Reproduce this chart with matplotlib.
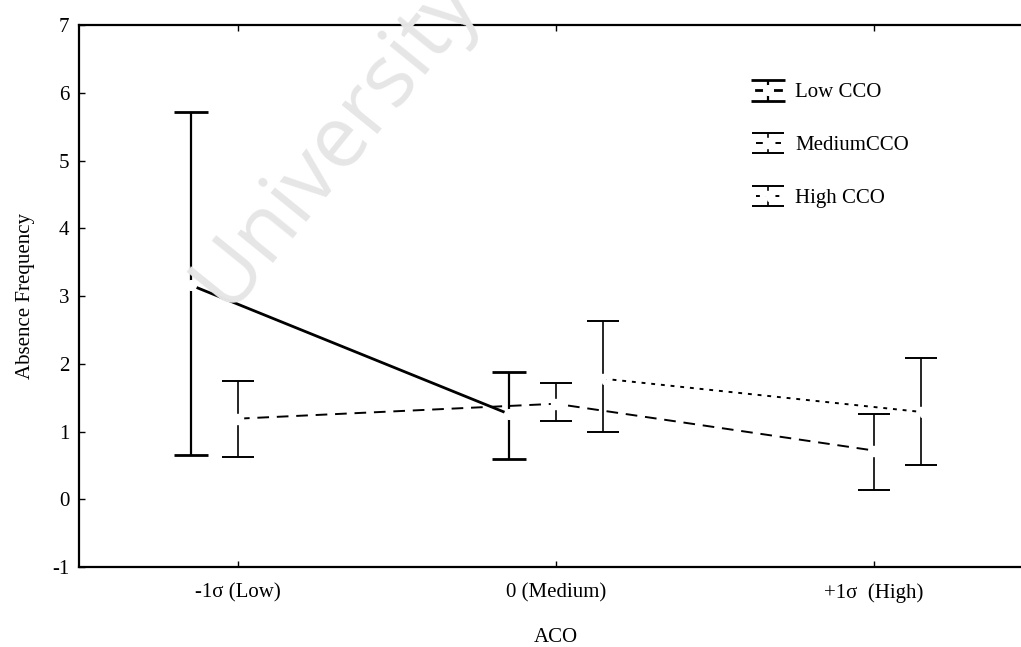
import numpy as np
import matplotlib.pyplot as plt

plt.rcParams['font.family'] = ['Liberation Serif', 'DejaVu Serif']
plt.rcParams['axes.unicode_minus'] = False

# ACO levels on the x axis
categories = ["-1\u03c3 (Low)", "0 (Medium)", "+1\u03c3  (High)"]
series_names = ["Low CCO", "MediumCCO", "High CCO"]

# means and interval bounds (nan = no point)
low_mean = [3.16, 1.26, np.nan]
low_upper = [5.72, 1.88, np.nan]
low_lower = [0.65, 0.59, np.nan]

med_mean = [1.19, 1.41, 0.72]
med_upper = [1.75, 1.71, 1.26]
med_lower = [0.63, 1.15, 0.13]

high_mean = [np.nan, 1.78, 1.29]
high_upper = [np.nan, 2.63, 2.09]
high_lower = [np.nan, 0.99, 0.50]

fig = plt.figure(figsize=(10.21, 6.47), dpi=100)
ax = fig.add_axes([0.0774, 0.1236, 0.934, 0.8377])

# faint watermark behind everything (cut by the top edge, as in the scan)
fig.text(0.222, 0.52, "University", rotation=51, rotation_mode='anchor',
         ha='left', va='baseline', fontsize=62, color='#e6e6e6',
         family=['Open Sans', 'DejaVu Sans'], zorder=0)
ax.patch.set_alpha(0)

x = np.arange(len(categories))
offset = 0.148
styles = [
    (low_mean, low_upper, low_lower, -offset, '-', 2.0, 1.6, 12.5, 'o'),
    (med_mean, med_upper, med_lower, 0.0, (0, (6, 4)), 1.4, 1.2, 11.5, 's'),
    (high_mean, high_upper, high_lower, offset, (0, (2, 3)), 1.4, 1.2, 11.5, 'v'),
]

handles = []
for (m, u, l, off, ls, lw, elw, cap, mk), name in zip(styles, series_names):
    m = np.array(m)
    yerr = [m - np.array(l), np.array(u) - m]
    h = ax.errorbar(x + off, m, yerr=yerr, color='black', linestyle=ls, linewidth=lw,
                    elinewidth=elw, capsize=cap, capthick=lw, marker=mk, markersize=7,
                    markerfacecolor='white', markeredgecolor='white', label=name, zorder=3)
    handles.append(h)

ax.set_xlim(-0.5, 2.5)
ax.set_ylim(-1, 7)
ax.set_xticks(x)
ax.set_xticklabels(categories)
ax.set_yticks(range(-1, 8))
ax.tick_params(axis='both', direction='in', length=4, width=1, labelsize=15, colors='black')
ax.tick_params(axis='x', top=True, pad=12)
ax.tick_params(axis='y', pad=7)
for s in ['left', 'top', 'bottom']:
    ax.spines[s].set_linewidth(1.6)
ax.spines['right'].set_visible(False)

ax.set_xlabel("ACO", fontsize=15, labelpad=18)
ax.set_ylabel("Absence Frequency", fontsize=15, labelpad=12)

leg = ax.legend(handles=handles, loc='upper left', bbox_to_anchor=(0.69, 0.928),
                frameon=False, fontsize=15, labelspacing=1.6, handlelength=1.2,
                handletextpad=0.7)

fig.savefig("out.png", dpi=100)
